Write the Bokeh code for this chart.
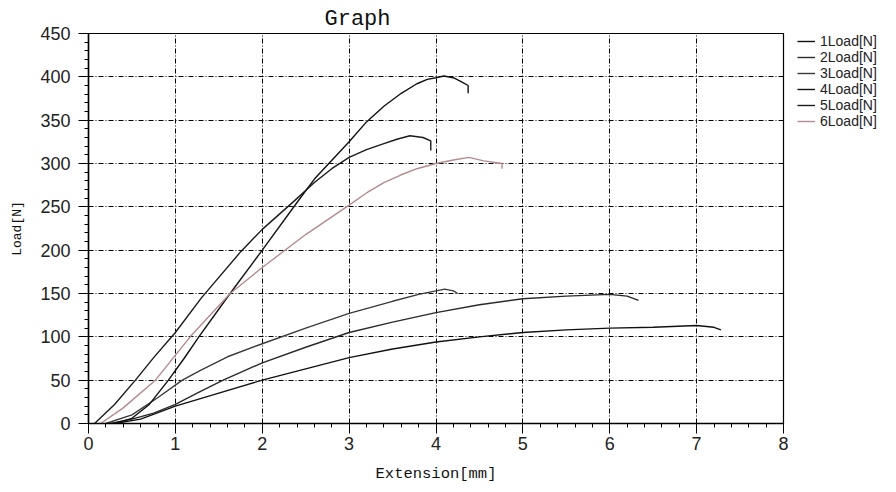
from bokeh.plotting import figure
from bokeh.models import Legend, LegendItem, SingleIntervalTicker
from bokeh.layouts import row
from bokeh.embed import file_html
from bokeh.resources import INLINE

labels = ["1Load[N]", "2Load[N]", "3Load[N]", "4Load[N]", "5Load[N]", "6Load[N]"]
colors = ["#111111", "#2a2a2a", "#3a3a3a", "#111111", "#1a1a1a", "#b58a8f"]

ext1 = [0.30, 0.6, 1.0, 1.5, 2.0, 2.5, 3.0, 3.5, 4.0, 4.5, 5.0, 5.5, 6.0, 6.5, 7.0, 7.2, 7.28]
load1 = [0, 5, 20, 35, 50, 63, 76, 86, 94, 100, 105, 108, 110, 111, 113, 111, 108]

ext2 = [0.25, 0.5, 0.75, 1.0, 1.25, 1.55, 2.0, 2.5, 3.0, 3.5, 4.0, 4.5, 5.0, 5.5, 6.0, 6.2, 6.33]
load2 = [0, 5, 12, 22, 35, 50, 70, 88, 105, 117, 128, 137, 144, 147, 149, 147, 142]

ext3 = [0.2, 0.5, 0.8, 1.08, 1.3, 1.6, 2.0, 2.5, 3.0, 3.5, 3.8, 4.0, 4.1, 4.2, 4.25]
load3 = [0, 10, 30, 50, 62, 77, 92, 110, 127, 141, 149, 153, 155, 153, 150]

ext4 = [0.30, 0.5, 0.7, 0.92, 1.1, 1.27, 1.63, 2.0, 2.4, 2.6, 3.0, 3.2, 3.4, 3.6, 3.78, 3.9, 4.0, 4.09, 4.2, 4.3, 4.37, 4.37]
load4 = [0, 6, 22, 50, 75, 100, 150, 200, 255, 282, 325, 348, 366, 381, 392, 397, 399, 401, 399, 394, 390, 381]

ext5 = [0.07, 0.3, 0.54, 0.75, 1.0, 1.3, 1.75, 2.0, 2.36, 2.6, 2.8, 3.0, 3.2, 3.4, 3.55, 3.7, 3.85, 3.94, 3.94]
load5 = [0, 22, 50, 76, 105, 145, 198, 224, 256, 278, 294, 307, 316, 323, 328, 332, 330, 326, 315]

ext6 = [0.14, 0.4, 0.77, 1.17, 1.63, 2.0, 2.5, 3.0, 3.2, 3.4, 3.6, 3.78, 4.0, 4.2, 4.38, 4.55, 4.76, 4.76]
load6 = [0, 18, 50, 100, 150, 180, 218, 252, 266, 278, 287, 294, 300, 304, 307, 303, 300, 294]

series_x = [ext1, ext2, ext3, ext4, ext5, ext6]
series_y = [load1, load2, load3, load4, load5, load6]

p = figure(width=790, height=490, x_range=(0, 8), y_range=(0, 450),
           output_backend="svg", toolbar_location=None,
           min_border_left=88, min_border_right=7, min_border_top=33, min_border_bottom=67)

p.title.text = "Graph"
p.title.text_font = "Liberation Mono"
p.title.text_font_size = "22px"
p.title.text_font_style = "normal"
p.title.text_color = "#111111"
p.title.align = "left"
p.title.offset = 236
p.title.standoff = 4

p.xaxis.ticker = SingleIntervalTicker(interval=1, num_minor_ticks=5)
p.yaxis.ticker = SingleIntervalTicker(interval=50, num_minor_ticks=5)
p.xaxis.axis_label = "Extension[mm]"
p.yaxis.axis_label = "Load[N]"
for ax in (p.xaxis, p.yaxis):
    ax.axis_label_text_font = "Liberation Mono"
    ax.axis_label_text_font_style = "normal"
    ax.axis_label_text_color = "#111111"
    ax.major_label_text_font = "Liberation Sans"
    ax.major_label_text_font_size = "18px"
    ax.major_label_text_color = "#222222"
    ax.axis_line_color = "black"
    ax.axis_line_width = 1.5
    ax.major_tick_line_color = "black"
    ax.minor_tick_line_color = "black"
    ax.major_tick_in = 0
    ax.major_tick_out = 10
    ax.minor_tick_in = 0
    ax.minor_tick_out = 4
p.xaxis.axis_label_text_font_size = "15.5px"
p.yaxis.axis_label_text_font_size = "13px"
p.xaxis.major_label_standoff = 3
p.yaxis.major_label_standoff = 8
p.xaxis.axis_label_standoff = 12
p.yaxis.axis_label_standoff = 12

for g in (p.xgrid, p.ygrid):
    g.grid_line_color = "black"
    g.grid_line_dash = "5 2 1 2"
    g.grid_line_width = 1

p.outline_line_color = "black"
p.outline_line_width = 1.2
p.background_fill_color = "white"

for xs, ys, c in zip(series_x, series_y, colors):
    p.line(xs, ys, line_color=c, line_width=1.4)

# legend panel at the right of the chart (its frame is aligned with the chart's frame)
pl = figure(width=106, height=490, x_range=(0, 1), y_range=(0, 1),
            output_backend="svg", toolbar_location=None,
            min_border_left=0, min_border_right=0, min_border_top=0, min_border_bottom=0,
            x_axis_type=None, y_axis_type=None)
pl.outline_line_color = None
pl.xgrid.visible = False
pl.ygrid.visible = False

nan = float("nan")
items = []
for c, lab in zip(colors, labels):
    r = pl.line([nan], [nan], line_color=c, line_width=1.4)
    items.append(LegendItem(label=lab, renderers=[r]))

legend = Legend(items=items, location=(7, 294))
legend.border_line_color = None
legend.background_fill_alpha = 0
legend.padding = 0
legend.margin = 0
legend.spacing = 0
legend.label_height = 14
legend.glyph_height = 14
legend.glyph_width = 18
legend.label_standoff = 5
legend.label_text_font = "Liberation Sans"
legend.label_text_font_size = "14px"
legend.label_text_color = "#222222"
pl.add_layout(legend)

open("out.html", "w").write(file_html(row(p, pl), INLINE))
